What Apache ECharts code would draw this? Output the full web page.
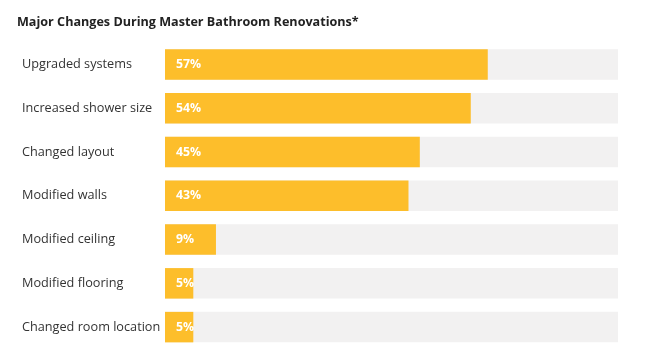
<!DOCTYPE html>
<html>
<head>
<meta charset="utf-8">
<script src="https://cdn.jsdelivr.net/npm/echarts@6/dist/echarts.min.js"></script>
<style>html,body{margin:0;padding:0;background:#fff}#c{width:647px;height:363px}</style>
</head>
<body>
<div id="c"></div>
<script>
const title = 'Major Changes During Master Bathroom Renovations*';
const categories = ['Upgraded systems','Increased shower size','Changed layout','Modified walls','Modified ceiling','Modified flooring','Changed room location'];
const values = [57,54,45,43,9,5,5];
const axisMax = 80;

const chart = echarts.init(document.getElementById('c'));
chart.setOption({
  animation: false,
  title: {text: title, left: 17, top: 16, padding: 0, textStyle: {fontFamily: 'Open Sans', fontSize: 12.6, fontWeight: 'bold', color: '#222'}},
  grid: {left: 165, right: 29, top: 42.6, bottom: 14},
  xAxis: {type: 'value', min: 0, max: axisMax, show: false},
  yAxis: {type: 'category', data: categories, inverse: true,
    axisLine: {show: false}, axisTick: {show: false},
    axisLabel: {align: 'left', margin: 143, color: '#333', fontFamily: 'Open Sans', fontSize: 12.7}},
  series: [{type: 'bar', data: values, barWidth: 30.5,
    itemStyle: {color: '#FDBE2B'},
    showBackground: true, backgroundStyle: {color: '#F2F1F1'},
    label: {show: true, position: 'insideLeft', distance: 11, formatter: '{c}%', color: '#fff', fontFamily: 'Open Sans', fontWeight: 'bold', fontSize: 12.3}
  }]
});
</script>
</body>
</html>
